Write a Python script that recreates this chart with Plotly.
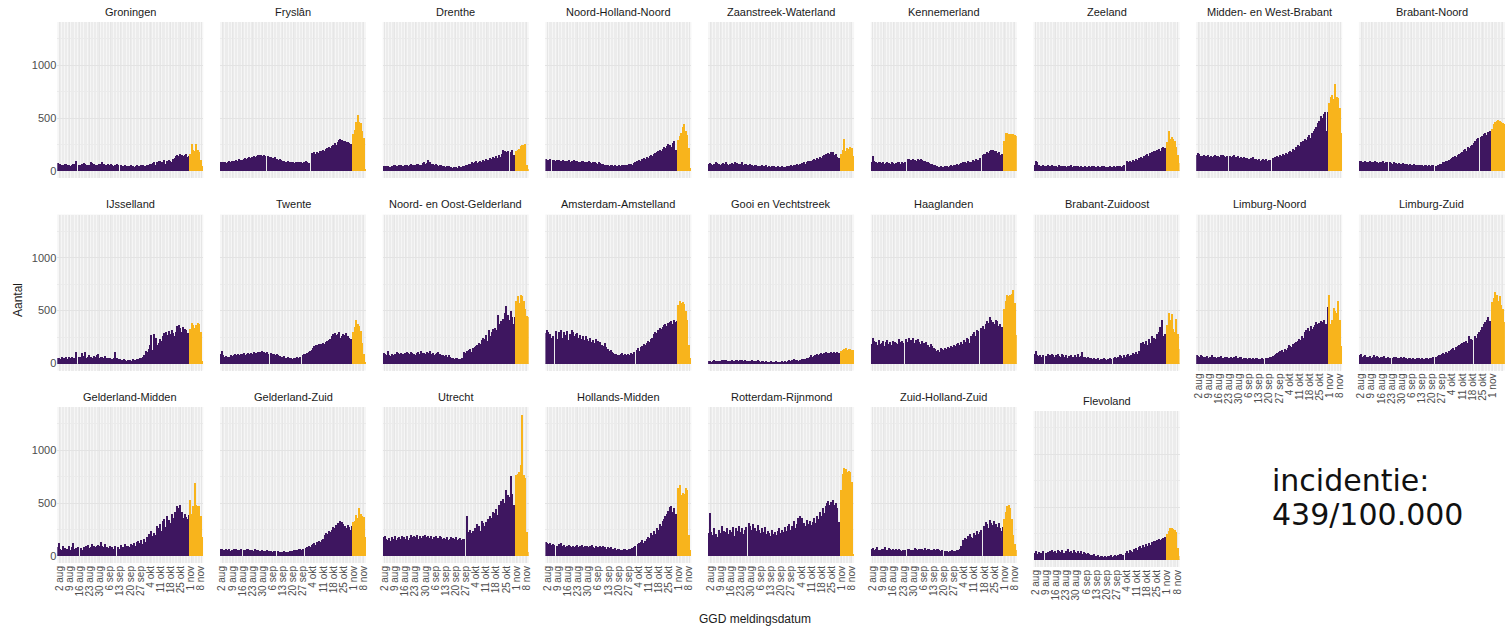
import plotly.graph_objects as go
import pandas as pd

W, H = 1505, 630
PURPLE = "#3e1660"
ORANGE = "#f8b41c"
START = "2020-08-01"
ORANGE_FROM = "2020-11-01"

REGIONS = [
    "Groningen", "Fryslân", "Drenthe", "Noord-Holland-Noord", "Zaanstreek-Waterland",
    "Kennemerland", "Zeeland", "Midden- en West-Brabant", "Brabant-Noord",
    "IJsselland", "Twente", "Noord- en Oost-Gelderland", "Amsterdam-Amstelland",
    "Gooi en Vechtstreek", "Haaglanden", "Brabant-Zuidoost", "Limburg-Noord", "Limburg-Zuid",
    "Gelderland-Midden", "Gelderland-Zuid", "Utrecht", "Hollands-Midden",
    "Rotterdam-Rijnmond", "Zuid-Holland-Zuid", "Flevoland",
]

TICK_DATES = ["2020-08-02", "2020-08-09", "2020-08-16", "2020-08-23", "2020-08-30",
              "2020-09-06", "2020-09-13", "2020-09-20", "2020-09-27", "2020-10-04",
              "2020-10-11", "2020-10-18", "2020-10-25", "2020-11-01", "2020-11-08"]
TICK_LABELS = ["2 aug", "9 aug", "16 aug", "23 aug", "30 aug", "6 sep", "13 sep", "20 sep",
               "27 sep", "4 okt", "11 okt", "18 okt", "25 okt", "1 nov", "8 nov"]

# daily counts from 1 aug (purple until 31 okt, orange from 1 nov)
GRONINGEN = [75,70,65,60,55,65,70, 60,55,50,60,70,65,95, 0,60,55,65,75,70,60,
             55,60,80,75,65,60,55, 60,70,65,80,70,60,55, 65,60,70,55,50,60,65,
             55,0,60,50,45,55,50, 45,50,55,45,40,50,55, 50,45,55,60,50,45,55,
             60,70,65,75,80,60,85, 95,90,80,85,100,70,90, 100,95,85,110,120,140,150,
             145,160,155,140,150,165,135, 145,
             165,255,200,190,255,195,175,105,45]
FRYSLAN = [80,75,80,85,75,80,90, 85,90,95,85,100,95,110, 105,100,115,120,110,125,130,
           120,135,145,130,140,150,155, 150,140,155,145,0,140,130, 135,120,125,130,115,105,110,
           100,95,90,85,80,90,85, 80,85,75,80,85,80,75, 80,75,85,90,80,75,0,
           170,160,175,165,180,170,185, 190,200,185,210,220,230,215, 240,250,260,245,270,290,300,
           290,285,280,270,275,260,255, 250,
           350,390,460,530,460,450,380,310,20]
DRENTHE = [45,40,50,45,35,40,50, 55,60,50,45,55,60,50, 45,55,60,50,55,65,60,
           55,60,70,65,55,60,75, 80,70,75,105,85,70,65, 60,65,55,50,60,55,50,
           45,40,50,45,35,40,30, 35,40,30,45,40,35,45, 50,55,60,70,65,80,75,
           80,90,75,85,95,80,100, 90,110,105,95,120,110,130, 125,140,120,150,135,160,200,
           190,175,185,0,180,200,150, 140,
           190,200,210,240,250,250,255,60,20]
NOORD_HOLLAND_NOORD = [110,105,100,115,0,105,100, 95,100,105,90,95,100,95, 90,95,100,85,90,95,100,
                       95,90,85,80,95,90,85, 80,85,90,80,75,85,80, 75,70,80,75,70,65,60,
                       55,60,50,55,60,50,55, 50,45,55,50,60,55,50, 60,55,65,70,60,75,80,
                       90,85,100,95,110,120,115, 130,125,140,150,145,160,170, 180,190,200,185,210,230,220,
                       240,255,250,230,260,280,200, 190,
                       290,330,360,420,440,380,340,220,30]
ZAANSTREEK_WATERLAND = [70,75,65,60,70,80,75, 70,60,65,75,70,80,65, 60,70,75,65,80,70,75,
                        65,70,85,60,65,70,60, 55,65,60,50,55,60,50, 45,50,55,45,50,55,40,
                        45,40,45,50,35,40,45, 35,40,45,35,40,45,50, 45,55,50,60,55,65,60,
                        70,65,75,80,70,85,90, 95,90,100,110,105,120,115, 130,125,140,150,160,145,170,
                        165,180,175,150,160,130,120, 110,
                        160,200,300,190,220,210,230,215,140]
KENNEMERLAND = [85,140,90,80,75,80,85, 75,80,70,75,80,75,70, 80,75,70,75,80,85,70,
                80,75,85,0,115,110,100, 105,110,100,95,115,105,110, 100,95,90,80,85,75,70,
                65,60,55,45,40,35,45, 40,35,45,50,40,45,55, 50,55,60,65,60,70,75,
                80,70,85,75,90,80,85, 100,90,110,95,105,120,0, 150,160,165,175,170,185,200,
                195,190,185,170,180,150,160, 155,
                280,360,360,350,345,345,350,340,330]
ZEELAND = [55,95,80,55,50,45,60, 50,45,55,50,45,55,50, 45,50,40,55,50,45,50,
           45,40,50,45,55,40,45, 40,45,50,40,45,35,40, 45,40,35,45,40,50,45,
           40,35,45,40,35,45,50, 40,35,40,45,35,40,45, 40,45,50,45,40,50,55,
           0,90,85,95,80,100,90, 110,100,120,115,130,125,140, 150,160,145,170,180,165,190,
           185,200,210,190,220,230,215, 200,
           270,380,300,320,300,280,230,150,75]
MIDDEN_WEST_BRABANT = [150,170,165,140,145,150,140, 145,150,135,140,130,145,150, 140,145,135,150,155,140,135,
                       145,0,140,130,145,150,135, 130,140,125,135,120,130,125, 120,115,110,125,130,115,110,
                       100,110,95,105,115,100,110, 95,100,105,0,120,130,125, 140,130,150,145,160,155,170,
                       165,180,190,175,210,200,230, 250,240,270,230,280,300,290, 320,340,310,360,380,400,420,
                       450,470,520,500,540,560,380, 560,
                       640,700,720,680,820,700,690,600,360]
BRABANT_NOORD = [95,90,85,80,90,85,80, 90,85,80,85,95,80,75, 85,80,90,75,80,85,0,
                 80,75,70,80,75,70,75, 70,65,75,70,65,70,60, 65,60,55,65,60,55,60,
                 55,60,50,55,60,50,55, 50,55,60,0,50,55,60, 65,70,80,85,90,95,100,
                 110,120,130,140,135,150,160, 170,180,200,210,190,230,220, 240,250,260,280,300,310,0,
                 320,330,350,360,340,370,380, 360,
                 400,440,460,470,480,470,460,450,440]
IJSSELLAND = [60,55,50,65,60,55,70, 50,65,60,70,55,60,110, 0,65,70,100,75,110,60,
              70,80,65,60,75,70,85, 90,60,70,65,55,75,60, 55,60,50,45,55,110,60,
              50,45,40,35,45,40,30, 35,40,30,45,35,40,50, 45,55,60,70,80,120,110,
              140,180,270,130,280,250,180, 200,240,220,260,290,300,270, 310,280,320,290,260,300,360,
              370,340,300,350,330,320,290, 280,
              330,390,370,340,370,390,380,300,30]
TWENTE = [90,120,80,70,75,65,70, 80,75,85,90,80,95,85, 90,95,100,85,95,105,90,
          100,95,110,105,100,115,110, 105,120,110,100,115,95,0, 100,95,90,85,95,80,75,
          70,65,75,60,55,65,60, 55,50,60,55,65,60,70, 0,80,90,95,100,110,120,
          130,150,170,180,175,190,185, 190,200,185,210,220,230,240, 260,280,290,270,280,300,250,
          260,280,270,290,260,250,240, 230,
          300,350,420,380,360,310,200,90,20]
NOORD_OOST_GELDERLAND = [100,90,85,120,80,75,90, 85,95,110,100,90,105,95, 90,100,115,105,95,110,100,
                         95,85,100,110,90,120,105, 100,95,110,105,120,90,100, 85,95,100,110,90,80,85,
                         75,80,70,85,65,60,55, 50,60,55,45,50,60,0, 110,100,120,130,140,110,150,
                         160,170,180,200,190,230,250, 240,270,220,320,260,300,330, 340,320,460,380,410,350,430,
                         480,550,460,420,500,440,380, 440,
                         600,640,580,650,640,600,520,450,440]
AMSTERDAM_AMSTELLAND = [290,320,300,280,250,260,0, 310,240,300,260,320,250,300, 270,310,230,280,320,300,260,
                        280,290,250,270,240,260,230, 260,240,220,250,210,230,200, 240,220,190,210,180,170,200,
                        160,140,120,130,110,100,90, 95,85,80,90,100,85,95, 80,90,85,100,95,110,0,
                        130,150,120,160,170,190,180, 200,220,210,240,250,280,300, 290,320,340,330,350,370,380,
                        360,390,400,410,380,420,400, 410,
                        560,600,580,590,570,500,420,180,60]
GOOI_VECHTSTREEK = [25,30,20,25,35,30,25, 30,25,35,30,40,35,30, 25,30,35,30,25,40,35,
                    30,35,40,30,35,30,25, 30,25,35,30,25,30,35, 25,20,25,30,20,25,20,
                    20,25,20,15,20,25,20, 20,15,25,20,25,20,30, 35,30,40,45,35,40,30,
                    40,35,45,50,45,55,60, 70,80,65,75,85,90,80, 95,100,90,105,110,95,100,
                    100,110,105,115,100,110,105, 100,
                    120,135,145,150,130,140,145,135,130]
HAAGLANDEN = [190,250,220,210,180,230,190, 200,220,170,210,230,190,210, 180,220,210,200,190,240,210,
              220,200,0,240,210,250,230, 220,250,200,230,240,210,190, 220,200,170,210,180,160,190,
              170,150,140,120,130,110,150, 140,130,150,140,160,150,170, 160,180,170,190,200,180,210,
              190,230,210,250,240,200,260, 280,300,260,320,310,0,340, 360,330,380,410,390,440,420,
              400,380,420,410,360,380,350, 340,
              520,600,650,640,650,660,700,580,270]
BRABANT_ZUIDOOST = [90,120,80,75,85,70,80, 0,75,90,70,85,95,80, 65,85,90,75,70,95,80,
                    70,80,60,75,85,70,65, 80,70,90,65,75,110,70, 65,60,70,55,60,50,55,
                    45,50,55,40,50,45,55, 45,40,50,55,45,0,60, 70,55,65,80,75,60,85,
                    70,80,90,75,85,100,95, 110,90,120,100,200,210,190, 220,180,240,200,260,230,250,
                    240,280,300,350,420,260,280, 270,
                    370,480,420,470,330,300,430,280,140]
LIMBURG_NOORD = [80,75,70,85,75,65,70, 75,60,70,65,80,70,65, 60,70,65,75,60,55,70,
                 65,60,55,70,60,65,75, 60,55,65,70,50,60,55, 50,55,60,45,55,50,60,
                 55,50,45,55,50,0,60, 55,60,65,70,75,80,90, 100,110,120,130,115,140,135,
                 150,180,170,160,190,200,210, 220,240,230,260,250,300,320, 340,310,360,330,350,370,400,
                 380,390,410,400,420,380,380, 540,
                 650,380,420,530,500,480,600,420,170]
LIMBURG_ZUID = [85,90,70,75,80,65,70, 75,60,65,80,70,75,65, 60,70,65,75,60,55,65,
                60,0,55,70,65,60,55, 60,65,55,70,60,50,55, 55,50,60,45,50,55,60,
                50,55,45,50,60,55,45, 55,60,65,0,70,75,80, 85,90,100,95,110,105,120,
                130,140,150,135,160,170,180, 190,200,210,180,220,200,260, 240,230,0,260,250,280,300,
                320,350,380,400,420,440,410, 390,
                590,620,680,650,600,640,560,520,400]
GELDERLAND_MIDDEN = [80,120,70,60,90,75,65, 70,95,60,80,120,65,75, 85,0,75,60,80,70,90,
                     100,75,85,110,95,80,90, 105,90,130,95,85,110,80, 75,90,65,80,70,95,0,
                     85,70,100,80,65,110,90, 95,85,110,100,120,90,130, 140,120,150,110,160,130,180,
                     210,170,240,190,220,200,280, 260,300,240,330,350,270,380, 340,310,400,360,420,390,470,
                     450,480,420,360,400,370,350, 390,
                     530,400,470,690,480,470,470,380,180]
GELDERLAND_ZUID = [65,70,60,55,65,60,70, 50,55,65,60,70,55,60, 65,0,60,55,70,65,60,
                   55,60,50,65,55,60,45, 50,55,45,50,55,45,50, 45,40,50,45,0,45,40,
                   40,35,45,40,35,40,45, 45,50,55,60,55,65,70, 60,70,0,75,80,90,85,
                   100,110,120,105,130,140,135, 150,160,200,220,210,240,230, 250,270,260,290,310,300,330,
                   320,300,280,260,290,270,250, 280,
                   320,330,390,360,450,400,380,370,180]
UTRECHT = [180,190,160,150,170,140,175, 165,185,155,170,180,160,190, 175,160,185,150,170,195,180,
           190,175,200,165,185,170,190, 180,195,175,185,170,190,160, 175,185,160,170,190,180,165,
           170,160,175,150,165,180,170, 160,175,150,165,170,155,160, 165,0,380,230,250,220,240,
           260,250,300,280,240,330,310, 280,320,350,300,380,360,420, 410,440,390,480,520,460,540,
           500,620,580,560,760,590,480, 470,
           770,780,790,860,1330,770,740,230,40]
HOLLANDS_MIDDEN = [130,120,110,125,105,115,100, 0,95,110,100,120,90,105, 85,95,100,90,80,95,85,
                   90,100,85,95,105,80,90, 85,95,80,90,100,85,75, 90,80,0,95,85,90,80,
                   70,80,75,85,70,65,75, 60,70,65,55,60,70,65, 55,60,70,65,75,80,90,
                   0,110,120,130,150,120,140, 160,180,170,220,200,240,210, 260,250,300,280,330,350,380,
                   400,430,460,470,420,450,400, 370,
                   640,670,580,600,590,640,620,200,60]
ROTTERDAM_RIJNMOND = [220,410,230,200,260,210,180, 250,220,280,200,240,230,260, 210,250,230,270,190,260,240,
                      280,230,260,210,250,270,0, 310,280,250,300,260,240,290, 250,220,260,230,270,210,240,
                      220,190,250,210,230,200,240, 260,220,250,230,270,240,280, 300,250,280,330,260,300,360,
                      380,330,360,310,280,340,300, 330,290,320,360,310,380,350, 420,380,450,410,470,500,520,
                      480,510,530,480,500,450,320, 170,
                      620,780,830,820,790,800,790,700,20]
ZUID_HOLLAND_ZUID = [70,75,60,65,85,55,60, 65,70,80,55,60,75,65, 60,70,55,65,60,70,55,
                     50,60,55,0,65,70,60, 55,60,75,65,60,70,65, 70,60,75,55,65,70,60,
                     55,65,60,70,65,60,50, 55,0,45,50,40,45,50, 55,50,45,60,55,70,90,
                     150,140,170,160,190,210,180, 170,220,200,240,210,230,250, 0,280,320,300,260,340,310,
                     290,330,300,270,310,260,240, 270,
                     350,420,470,480,450,350,200,110,60]
FLEVOLAND = [70,85,60,75,65,70,80, 0,70,75,65,80,90,75, 85,70,95,80,75,90,70,
             65,80,100,75,85,70,90, 75,65,80,70,85,60,75, 70,60,65,55,50,45,55,
             40,35,45,30,40,35,30, 35,30,40,35,45,30,40, 45,40,50,55,60,45,0,
             70,85,65,90,80,75,100, 110,95,120,130,115,140,125, 150,135,160,145,170,155,180,
             175,190,200,185,195,210,215, 220,
             250,270,300,300,290,280,260,110,40]

SERIES = [GRONINGEN, FRYSLAN, DRENTHE, NOORD_HOLLAND_NOORD, ZAANSTREEK_WATERLAND,
          KENNEMERLAND, ZEELAND, MIDDEN_WEST_BRABANT, BRABANT_NOORD,
          IJSSELLAND, TWENTE, NOORD_OOST_GELDERLAND, AMSTERDAM_AMSTELLAND,
          GOOI_VECHTSTREEK, HAAGLANDEN, BRABANT_ZUIDOOST, LIMBURG_NOORD, LIMBURG_ZUID,
          GELDERLAND_MIDDEN, GELDERLAND_ZUID, UTRECHT, HOLLANDS_MIDDEN,
          ROTTERDAM_RIJNMOND, ZUID_HOLLAND_ZUID, FLEVOLAND]

DAY_MS = 86400000
FONT = "Liberation Sans, Arial, sans-serif"

fig = go.Figure()
layout = dict(
    width=W, height=H, autosize=False,
    margin=dict(l=0, r=0, t=0, b=0, autoexpand=False),
    paper_bgcolor="white", plot_bgcolor="#f6f6f6",
    barmode="overlay", bargap=0, showlegend=False,
    font=dict(family=FONT, color="#4d4d4d"),
)
annotations = []

for i, (name, vals) in enumerate(zip(REGIONS, SERIES)):
    r, c = divmod(i, 9)
    x0 = 57.3 + c * 162.7
    x1 = min(x0 + 146, W - 0.1)
    top = 22 + r * 192.5
    bot = top + 156
    if name == "Flevoland":
        top += 4
        bot += 4
    n = "" if i == 0 else str(i + 1)
    dates = pd.date_range(START, periods=len(vals), freq="D")
    s = pd.Series(vals, index=dates)
    early = s[s.index < ORANGE_FROM]
    late = s[s.index >= ORANGE_FROM]
    for part, col in ((early, PURPLE), (late, ORANGE)):
        fig.add_trace(go.Bar(x=part.index, y=part.values, width=DAY_MS,
                             marker=dict(color=col, line=dict(width=0)),
                             xaxis="x" + n, yaxis="y" + n, hoverinfo="x+y"))
    bottom = (r == 2) or (r == 1 and c >= 7)
    layout["xaxis" + n] = dict(
        domain=[x0 / W, x1 / W], anchor="y" + n, type="date", automargin=False,
        range=["2020-07-31 12:00", "2020-11-09 12:00"],
        tickmode="array", tickvals=TICK_DATES, ticktext=TICK_LABELS,
        showticklabels=bottom, tickangle=-90, ticks="",
        tickfont=dict(size=10, color="#4d4d4d", family=FONT),
        showgrid=True, gridcolor="#e6e6e6", gridwidth=1,
        minor=dict(dtick=DAY_MS, tick0="2020-08-01", showgrid=True,
                   gridcolor="#ececec", gridwidth=0.6),
        zeroline=False, showline=False, fixedrange=True,
    )
    layout["yaxis" + n] = dict(
        domain=[1 - bot / H, 1 - top / H], anchor="x" + n, automargin=False,
        range=[-67, 1410], tickmode="array", tickvals=[0, 500, 1000],
        showticklabels=(c == 0), ticks="",
        tickfont=dict(size=11, color="#4d4d4d", family=FONT),
        showgrid=True, gridcolor="#e3e3e3", gridwidth=1,
        minor=dict(dtick=250, tick0=0, showgrid=True, gridcolor="#ebebeb", gridwidth=0.6),
        zeroline=False, showline=False, fixedrange=True,
    )
    annotations.append(dict(
        text=name, x=(x0 + x0 + 146) / 2 / W, y=1 - (top - 10.5) / H,
        xref="paper", yref="paper", xanchor="center", yanchor="middle",
        showarrow=False, font=dict(size=11, color="#1a1a1a", family=FONT)))

annotations.append(dict(text="Aantal", x=18 / W, y=1 - 300 / H, xref="paper", yref="paper",
                        textangle=-90, showarrow=False, xanchor="center", yanchor="middle",
                        font=dict(size=12, color="#1a1a1a", family=FONT)))
annotations.append(dict(text="GGD meldingsdatum", x=755 / W, y=1 - 619 / H, xref="paper",
                        yref="paper", showarrow=False, xanchor="center", yanchor="middle",
                        font=dict(size=12, color="#1a1a1a", family=FONT)))
annotations.append(dict(text="incidentie:", x=1270 / W, y=1 - 480 / H, xref="paper",
                        yref="paper", showarrow=False, xanchor="left", yanchor="middle",
                        font=dict(size=30, color="#111111", family="DejaVu Sans, Verdana")))
annotations.append(dict(text="439/100.000", x=1270 / W, y=1 - 514 / H, xref="paper",
                        yref="paper", showarrow=False, xanchor="left", yanchor="middle",
                        font=dict(size=30, color="#111111", family="DejaVu Sans, Verdana")))
layout["annotations"] = annotations
fig.update_layout(**layout)
fig.write_html("out.html", config={"displayModeBar": False},
               post_script="document.body.style.margin='0';document.body.style.overflow='hidden';")
